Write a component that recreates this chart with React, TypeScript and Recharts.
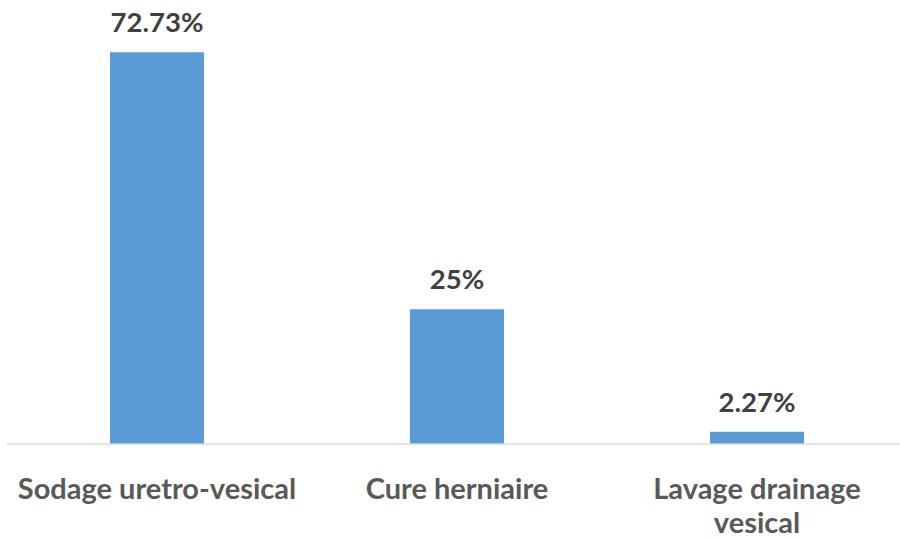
import { Bar, BarChart, XAxis, YAxis, LabelList } from "recharts";

const categories = ["Sodage uretro-vesical", "Cure herniaire", "Lavage drainage vesical"];
const values = [72.73, 25, 2.27];
const valueLabels = ["72.73%", "25%", "2.27%"];

const data = categories.map((name, i) => ({ name, value: values[i], label: valueLabels[i] }));

const FONT = "Lato, 'Open Sans', sans-serif";

// greedy wrap by character count, Excel-style
function wrap(text: string, max = 21) {
  const words = text.split(" ");
  const lines: string[] = [];
  let cur = "";
  for (const w of words) {
    const next = cur ? cur + " " + w : w;
    if (next.length > max && cur) {
      lines.push(cur);
      cur = w;
    } else cur = next;
  }
  if (cur) lines.push(cur);
  return lines;
}

function CategoryTick({ x, y, payload }: any) {
  const lines = wrap(payload.value);
  return (
    <text x={x} y={y} textAnchor="middle" fill="#595959" fontFamily={FONT} fontWeight={700} fontSize={29}>
      {lines.map((l, i) => (
        <tspan key={i} x={x} dy={i === 0 ? 47 : 34}>
          {l}
        </tspan>
      ))}
    </text>
  );
}

export default function App() {
  return (
    <div style={{ position: "absolute", left: 0, top: 0, width: 900, height: 539, overflow: "hidden", background: "#fff" }}>
      <BarChart width={907} height={539} data={data} margin={{ top: 13, right: 0, bottom: 0, left: 7 }} barSize={94}>
        <YAxis hide domain={[0, 80]} />
        <XAxis
          dataKey="name"
          height={95}
          tickLine={false}
          axisLine={{ stroke: "#d9d9d9", strokeWidth: 1.5 }}
          tick={<CategoryTick />}
          interval={0}
        />
        <Bar dataKey="value" fill="#5b9bd5" isAnimationActive={false}>
          <LabelList
            dataKey="label"
            position="top"
            offset={20}
            fill="#404040"
            fontFamily={FONT}
            fontWeight={700}
            fontSize={27.5}
          />
        </Bar>
      </BarChart>
    </div>
  );
}
